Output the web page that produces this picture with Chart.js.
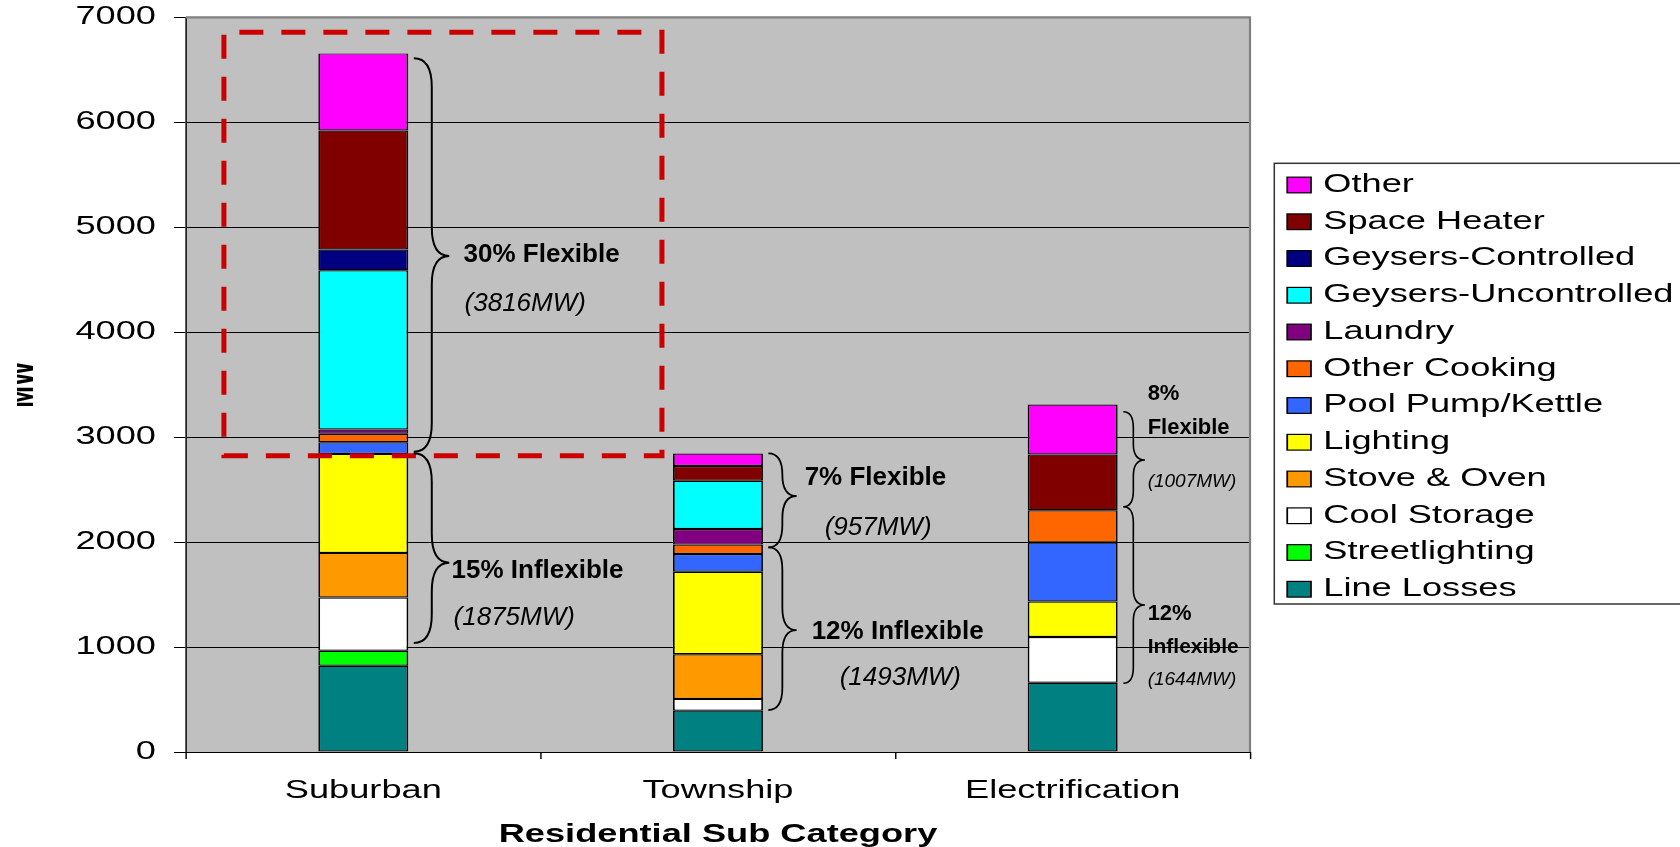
<!DOCTYPE html>
<html>
<head>
<meta charset="utf-8">
<title>Residential demand by sub category</title>
<script src="https://cdn.jsdelivr.net/npm/chart.js@4.4.1/dist/chart.umd.min.js"></script>
<style>
  html, body { margin: 0; padding: 0; background: #ffffff; }
  #chart { display: block; }
</style>
</head>
<body>
<canvas id="chart" width="1680" height="847" style="width:1680px;height:847px"></canvas>
<script>
// ---- data (MW) ----
const categories = ['Suburban', 'Township', 'Electrification'];

// end uses, stacked from the bottom of each bar upward
const lineLosses          = [822, 394, 660];
const streetlighting      = [143, 0, 0];
const coolStorage         = [507, 112, 436];
const stoveOven           = [425, 425, 0];
const lighting            = [943, 786, 338];
const poolPumpKettle      = [111, 170, 562];
const otherCooking        = [80, 89, 308];
const laundry             = [41, 149, 0];
const geysersUncontrolled = [1518, 460, 0];
const geysersControlled   = [197, 0, 0];
const spaceHeater         = [1134, 140, 531];
const other               = [735, 119, 476];

const yTickValues = [0, 1000, 2000, 3000, 4000, 5000, 6000, 7000];

// flexible / inflexible groupings shown beside each bar
const flexiblePct   = [30, 7, 8];
const flexibleMW    = [3816, 957, 1007];
const inflexiblePct = [15, 12, 12];
const inflexibleMW  = [1875, 1493, 1644];

// ---- styling ----
const FONT = '"Liberation Sans", Arial, Helvetica, sans-serif';
const seriesColors = {
  'Line Losses': '#008080',
  'Streetlighting': '#00FF00',
  'Cool Storage': '#FFFFFF',
  'Stove & Oven': '#FF9900',
  'Lighting': '#FFFF00',
  'Pool Pump/Kettle': '#3366FF',
  'Other Cooking': '#FF6600',
  'Laundry': '#800080',
  'Geysers-Uncontrolled': '#00FFFF',
  'Geysers-Controlled': '#000080',
  'Space Heater': '#800000',
  'Other': '#FF00FF'
};

const series = [
  ['Line Losses', lineLosses],
  ['Streetlighting', streetlighting],
  ['Cool Storage', coolStorage],
  ['Stove & Oven', stoveOven],
  ['Lighting', lighting],
  ['Pool Pump/Kettle', poolPumpKettle],
  ['Other Cooking', otherCooking],
  ['Laundry', laundry],
  ['Geysers-Uncontrolled', geysersUncontrolled],
  ['Geysers-Controlled', geysersControlled],
  ['Space Heater', spaceHeater],
  ['Other', other]
];

// The chart is laid out on a narrower logical canvas and drawn
// stretched horizontally to fill the page width.
const CANVAS_W = 1680;
const LOGICAL_W = 1160;
const SX = CANVAS_W / LOGICAL_W;

// brace geometry: MW positions of top / tip / bottom, screen offsets from bar edge
const braces = [
  { cat: 0, x0: 5.5, x1: 23.5, x2: 41, lw: 2,
    flex:   { top: 6610, tip: 4726, bot: 2860 },
    inflex: { top: 2846, tip: 1804, bot: 1038 } },
  { cat: 1, x0: 5.4, x1: 19.4, x2: 33.7, lw: 1.8,
    flex:   { top: 2846, tip: 2439, bot: 1950 },
    inflex: { top: 1950, tip: 1162, bot: 400 } },
  { cat: 2, x0: 5.7, x1: 15.7, x2: 27.3, lw: 1.6,
    flex:   { top: 3242, tip: 2782, bot: 2337 },
    inflex: { top: 2337, tip: 1400, bot: 655 } }
];

function drawBrace(ctx, x0, x1, x2, yTop, yTip, yBot) {
  const w = 1.6 * (x1 - x0);
  const r1 = Math.min(w, (yTip - yTop) / 2);
  const r2 = Math.min(w, (yBot - yTip) / 2);
  ctx.beginPath();
  ctx.moveTo(x0, yTop);
  ctx.quadraticCurveTo(x1, yTop, x1, yTop + r1);
  ctx.lineTo(x1, yTip - r1);
  ctx.quadraticCurveTo(x1, yTip, x2, yTip);
  ctx.quadraticCurveTo(x1, yTip, x1, yTip + r2);
  ctx.lineTo(x1, yBot - r2);
  ctx.quadraticCurveTo(x1, yBot, x0, yBot);
  ctx.stroke();
}

function text(ctx, str, x, y, font) {
  ctx.font = font;
  ctx.fillText(str, x, y);
}

function drawLegend(chart) {
  const ctx = chart.ctx;
  const items = chart.data.datasets.slice().reverse();
  ctx.save();
  ctx.textBaseline = 'middle';
  ctx.textAlign = 'left';
  ctx.font = '25px ' + FONT;
  items.forEach((d, i) => {
    const cy = 185 + i * 36.75;
    ctx.fillStyle = d.backgroundColor;
    ctx.fillRect(888.8, cy - 7.85, 16.4, 15.7);
    ctx.strokeStyle = '#000000';
    ctx.lineWidth = 1.2;
    ctx.strokeRect(888.8, cy - 7.85, 16.4, 15.7);
    ctx.fillStyle = '#000000';
    ctx.fillText(d.label, 913.7, cy);
  });
  ctx.restore();
}

const stretchPlugin = {
  id: 'stretchAndNotes',
  afterInit(chart) {
    chart.width = LOGICAL_W;
  },
  beforeDraw(chart) {
    const ctx = chart.ctx;
    ctx.save();
    ctx.setTransform(SX, 0, 0, 1, 0, 0);
    const a = chart.chartArea;
    ctx.fillStyle = '#C0C0C0';
    ctx.fillRect(a.left, a.top, a.right - a.left, a.bottom - a.top);
  },
  afterDraw(chart) {
    const ctx = chart.ctx;
    drawLegend(chart);
    ctx.restore();

    // from here on: unstretched page pixels
    const a = chart.chartArea;
    const xs = chart.scales.x;
    const ys = chart.scales.y;

    // plot frame (top and right)
    ctx.save();
    ctx.strokeStyle = '#808080';
    ctx.lineWidth = 2.2;
    ctx.beginPath();
    ctx.moveTo(a.left * SX, a.top);
    ctx.lineTo(a.right * SX, a.top);
    ctx.lineTo(a.right * SX, a.bottom);
    ctx.stroke();
    ctx.restore();

    // legend frame
    ctx.save();
    ctx.strokeStyle = '#333333';
    ctx.lineWidth = 1.5;
    ctx.strokeRect(1274.3, 163.3, 600, 440.7);
    ctx.restore();

    // dashed highlight around the flexible suburban load
    const cw = xs.getPixelForValue(1) - xs.getPixelForValue(0);
    const c0 = xs.getPixelForValue(0);
    const L = (c0 - 0.393 * cw) * SX;
    const R = (c0 + 0.842 * cw) * SX;
    const T = ys.getPixelForValue(6857);
    const B = ys.getPixelForValue(2823);
    ctx.save();
    ctx.strokeStyle = '#CC0000';
    ctx.lineWidth = 5;
    ctx.setLineDash([24, 18]);
    ctx.beginPath();
    ctx.moveTo(L, B);
    ctx.lineTo(R, B);
    ctx.lineTo(R, T);
    ctx.lineTo(L, T);
    ctx.closePath();
    ctx.stroke();
    ctx.restore();

    // braces and their labels
    const meta = chart.getDatasetMeta(0);
    ctx.save();
    ctx.strokeStyle = '#000000';
    ctx.fillStyle = '#000000';
    ctx.textAlign = 'left';
    ctx.textBaseline = 'alphabetic';
    braces.forEach(b => {
      const bar = meta.data[b.cat];
      const edge = (bar.x + bar.width / 2) * SX;
      ctx.lineWidth = b.lw;
      ['flex', 'inflex'].forEach(k => {
        const s = b[k];
        drawBrace(ctx, edge + b.x0, edge + b.x1, edge + b.x2,
          ys.getPixelForValue(s.top), ys.getPixelForValue(s.tip), ys.getPixelForValue(s.bot));
      });
      const i = b.cat;
      const tf = ys.getPixelForValue(b.flex.tip);
      const ti = ys.getPixelForValue(b.inflex.tip);
      if (i === 0) {
        text(ctx, flexiblePct[i] + '% Flexible', edge + 55.3, tf + 6.5, 'bold 26px ' + FONT);
        text(ctx, '(' + flexibleMW[i] + 'MW)', edge + 56.3, tf + 55, 'italic 26px ' + FONT);
        text(ctx, inflexiblePct[i] + '% Inflexible', edge + 43.3, ti + 15, 'bold 26px ' + FONT);
        text(ctx, '(' + inflexibleMW[i] + 'MW)', edge + 45.3, ti + 62.3, 'italic 26px ' + FONT);
      } else if (i === 1) {
        text(ctx, flexiblePct[i] + '% Flexible', edge + 41.7, tf - 11, 'bold 26px ' + FONT);
        text(ctx, '(' + flexibleMW[i] + 'MW)', edge + 61.7, tf + 39, 'italic 26px ' + FONT);
        text(ctx, inflexiblePct[i] + '% Inflexible', edge + 48.7, ti + 9, 'bold 26px ' + FONT);
        text(ctx, '(' + inflexibleMW[i] + 'MW)', edge + 76.7, ti + 55, 'italic 26px ' + FONT);
      } else {
        text(ctx, flexiblePct[i] + '%', edge + 30, tf - 60, 'bold 22px ' + FONT);
        text(ctx, 'Flexible', edge + 30, tf - 26.5, 'bold 22px ' + FONT);
        text(ctx, '(' + flexibleMW[i] + 'MW)', edge + 30, tf + 27, 'italic 19px ' + FONT);
        text(ctx, inflexiblePct[i] + '%', edge + 30, ti + 15, 'bold 22px ' + FONT);
        text(ctx, 'Inflexible', edge + 30, ti + 47.5, 'bold 21px ' + FONT);
        text(ctx, '(' + inflexibleMW[i] + 'MW)', edge + 30, ti + 80, 'italic 19px ' + FONT);
      }
    });
    ctx.restore();

    // the axis title is cut along the page's left margin
    ctx.save();
    ctx.fillStyle = '#ffffff';
    ctx.fillRect(0, 0, 17, chart.canvas.height);
    ctx.restore();
  }
};

const datasets = series.map(([label, values]) => ({
  label: label,
  data: values,
  backgroundColor: seriesColors[label],
  borderColor: '#000000',
  borderWidth: 1.2,
  borderSkipped: false,
  categoryPercentage: 1.0,
  barPercentage: 0.2536
}));

new Chart(document.getElementById('chart'), {
  type: 'bar',
  data: { labels: categories, datasets: datasets },
  plugins: [stretchPlugin],
  options: {
    responsive: false,
    maintainAspectRatio: false,
    devicePixelRatio: 1,
    animation: false,
    events: [],
    layout: { padding: { left: 0, top: 17.3, right: LOGICAL_W - 863.1, bottom: 0 } },
    plugins: {
      legend: { display: false },
      tooltip: { enabled: false },
      title: { display: false }
    },
    scales: {
      x: {
        stacked: true,
        offset: true,
        grid: { display: true, drawOnChartArea: false, drawTicks: true, tickLength: 7, color: '#000000', offset: true },
        border: { display: true, color: '#000000', width: 1 },
        ticks: { color: '#000000', font: { family: FONT, size: 25 }, padding: 17, maxRotation: 0 },
        title: { display: true, text: 'Residential Sub Category', color: '#000000',
                 font: { family: FONT, size: 25, weight: 'bold', lineHeight: 0.96 }, padding: { top: 0, bottom: 0 } },
        afterFit(scale) { scale.height = 95; }
      },
      y: {
        stacked: true,
        min: 0,
        max: 7000,
        afterBuildTicks(scale) { scale.ticks = yTickValues.map(v => ({ value: v })); },
        grid: { color: '#000000', lineWidth: 1, drawTicks: true, tickLength: 8.3 },
        border: { display: true, color: '#000000', width: 1 },
        ticks: { color: '#000000', font: { family: FONT, size: 25 }, padding: 12.4,
                 callback: v => String(v) },
        title: { display: true, text: 'MW', color: '#000000',
                 font: { family: FONT, size: 26, weight: 'bold' }, padding: 0 },
        afterFit(scale) {
          scale.width = 128.4;
          scale.paddingTop = 0;
          scale.paddingBottom = 0;
        }
      }
    }
  }
});
</script>
</body>
</html>
